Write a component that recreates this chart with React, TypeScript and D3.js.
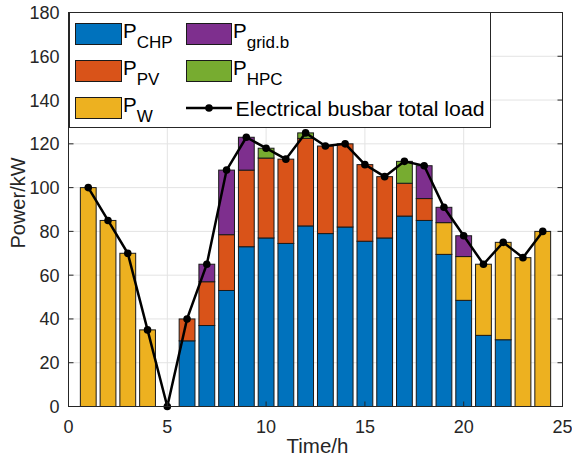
import React from "react";
import * as d3 from "d3";

// hourly power balance (kW)
const hours = d3.range(1, 25);
const pCHP = [0, 0, 0, 0, 0, 30, 37, 53, 73, 77, 74.5, 82.5, 79, 82, 75.5, 77, 87, 85, 69.5, 48.5, 32.5, 30.5, 0, 0];
const pPV = [0, 0, 0, 0, 0, 10, 20, 25.5, 35, 36.5, 38.5, 40, 40, 38, 35, 28, 15, 10, 0, 0, 0, 0, 0, 0];
const pW = [100, 85, 70, 35, 0, 0, 0, 0, 0, 0, 0, 0, 0, 0, 0, 0, 0, 0, 14.5, 20, 32.5, 44.5, 68, 80];
const pGrid = [0, 0, 0, 0, 0, 0, 8, 29.5, 15, 0, 0, 0, 0, 0, 0, 0, 0, 15, 7, 9.5, 0, 0, 0, 0];
const pHPC = [0, 0, 0, 0, 0, 0, 0, 0, 0, 4.5, 0, 2.5, 0, 0, 0, 0, 10, 0, 0, 0, 0, 0, 0, 0];
const totalLoad = [100, 85, 70, 35, 0, 40, 65, 108, 123, 118, 113, 125, 119, 120, 110.5, 105, 112, 110, 91, 78, 65, 75, 68, 80];

const xTicks = [0, 5, 10, 15, 20, 25];
const yTicks = [0, 20, 40, 60, 80, 100, 120, 140, 160, 180];

const series = [
  { key: "CHP", values: pCHP, color: "#0072BD" },
  { key: "PV", values: pPV, color: "#D95319" },
  { key: "W", values: pW, color: "#EDB120" },
  { key: "grid.b", values: pGrid, color: "#7E2F8E" },
  { key: "HPC", values: pHPC, color: "#77AC30" },
];

const W = 572;
const H = 459;
const font = "'Liberation Sans', Arial, Helvetica, sans-serif";
const axisColor = "#262626";

export default function App() {
  const left = 68.5, right = 562.5, top = 12.5, bottom = 406.5;
  const x = d3.scaleLinear().domain([0, 25]).range([left, right]);
  const y = d3.scaleLinear().domain([0, 180]).range([bottom, top]);
  const barW = (x(1) - x(0)) * 0.8;

  const rows = hours.map((h, i) => {
    const r: any = { hour: h };
    series.forEach((s) => (r[s.key] = s.values[i]));
    return r;
  });
  const stacked = d3.stack().keys(series.map((s) => s.key))(rows);

  const line = d3
    .line<number>()
    .x((_, i) => x(hours[i]))
    .y((d) => y(d));

  const legendCol1 = [series[0], series[1], series[2]];
  const legendCol2 = [series[3], series[4]];
  const rowY = [34, 71, 108];

  return (
    <svg
      width={W}
      height={H}
      style={{ position: "absolute", left: 0, top: 0, background: "#fff" }}
      fontFamily={font}
    >
      {/* grid */}
      <g stroke="#e3e3e3" strokeWidth={1}>
        {xTicks.slice(1, -1).map((t) => (
          <line key={"gx" + t} x1={x(t)} x2={x(t)} y1={top} y2={bottom} />
        ))}
        {yTicks.slice(1, -1).map((t) => (
          <line key={"gy" + t} x1={left} x2={right} y1={y(t)} y2={y(t)} />
        ))}
      </g>

      {/* stacked bars */}
      {stacked.map((layer, li) => (
        <g key={layer.key} fill={series[li].color} stroke="#1a1a1a" strokeWidth={1}>
          {layer.map((d, i) =>
            d[1] - d[0] > 0 ? (
              <rect
                key={i}
                x={x(hours[i]) - barW / 2}
                y={y(d[1])}
                width={barW}
                height={y(d[0]) - y(d[1])}
              />
            ) : null
          )}
        </g>
      ))}

      {/* total load line */}
      <path d={line(totalLoad) || ""} fill="none" stroke="#000" strokeWidth={2.5} />
      {totalLoad.map((v, i) => (
        <circle key={i} cx={x(hours[i])} cy={y(v)} r={3.8} fill="#000" />
      ))}

      {/* axes box */}
      <rect x={left} y={top} width={right - left} height={bottom - top} fill="none" stroke={axisColor} strokeWidth={1} />
      <g stroke={axisColor} strokeWidth={1}>
        {xTicks.map((t) => (
          <g key={"tx" + t}>
            <line x1={x(t)} x2={x(t)} y1={bottom} y2={bottom - 5} />
            <line x1={x(t)} x2={x(t)} y1={top} y2={top + 5} />
          </g>
        ))}
        {yTicks.map((t) => (
          <g key={"ty" + t}>
            <line x1={left} x2={left + 5} y1={y(t)} y2={y(t)} />
            <line x1={right} x2={right - 5} y1={y(t)} y2={y(t)} />
          </g>
        ))}
      </g>
      <g fill={axisColor} fontSize={18}>
        {xTicks.map((t) => (
          <text key={"lx" + t} x={x(t)} y={433} textAnchor="middle">
            {t}
          </text>
        ))}
        {yTicks.map((t) => (
          <text key={"ly" + t} x={59.5} y={y(t) + 6.5} textAnchor="end">
            {t}
          </text>
        ))}
      </g>
      <text x={(left + right) / 2 + 2} y={453} textAnchor="middle" fontSize={20.5} fill={axisColor}>
        Time/h
      </text>
      <text
        transform={`translate(25,203) rotate(-90)`}
        textAnchor="middle"
        fontSize={20}
        fill={axisColor}
      >
        Power/kW
      </text>

      {/* legend */}
      <rect x={69.5} y={12.5} width={421} height={115} fill="#fff" stroke={axisColor} strokeWidth={1} />
      {legendCol1.map((s, i) => (
        <g key={s.key}>
          <rect x={75.5} y={rowY[i] - 10.5} width={46} height={21} fill={s.color} stroke="#1a1a1a" />
          <text x={123} y={rowY[i] + 3.5} fontSize={20.5} fill="#000">
            P<tspan dy={10} fontSize={17}>{s.key}</tspan>
          </text>
        </g>
      ))}
      {legendCol2.map((s, i) => (
        <g key={s.key}>
          <rect x={186.5} y={rowY[i] - 10.5} width={45} height={21} fill={s.color} stroke="#1a1a1a" />
          <text x={233} y={rowY[i] + 3.5} fontSize={20.5} fill="#000">
            P<tspan dy={10} fontSize={17}>{s.key}</tspan>
          </text>
        </g>
      ))}
      <line x1={186} x2={232} y1={rowY[2]} y2={rowY[2]} stroke="#000" strokeWidth={2.5} />
      <circle cx={209} cy={rowY[2]} r={3.8} fill="#000" />
      <text x={235.5} y={rowY[2] + 7.5} fontSize={20.5} fill="#000" textLength={249} lengthAdjust="spacingAndGlyphs">
        Electrical busbar total load
      </text>
    </svg>
  );
}
